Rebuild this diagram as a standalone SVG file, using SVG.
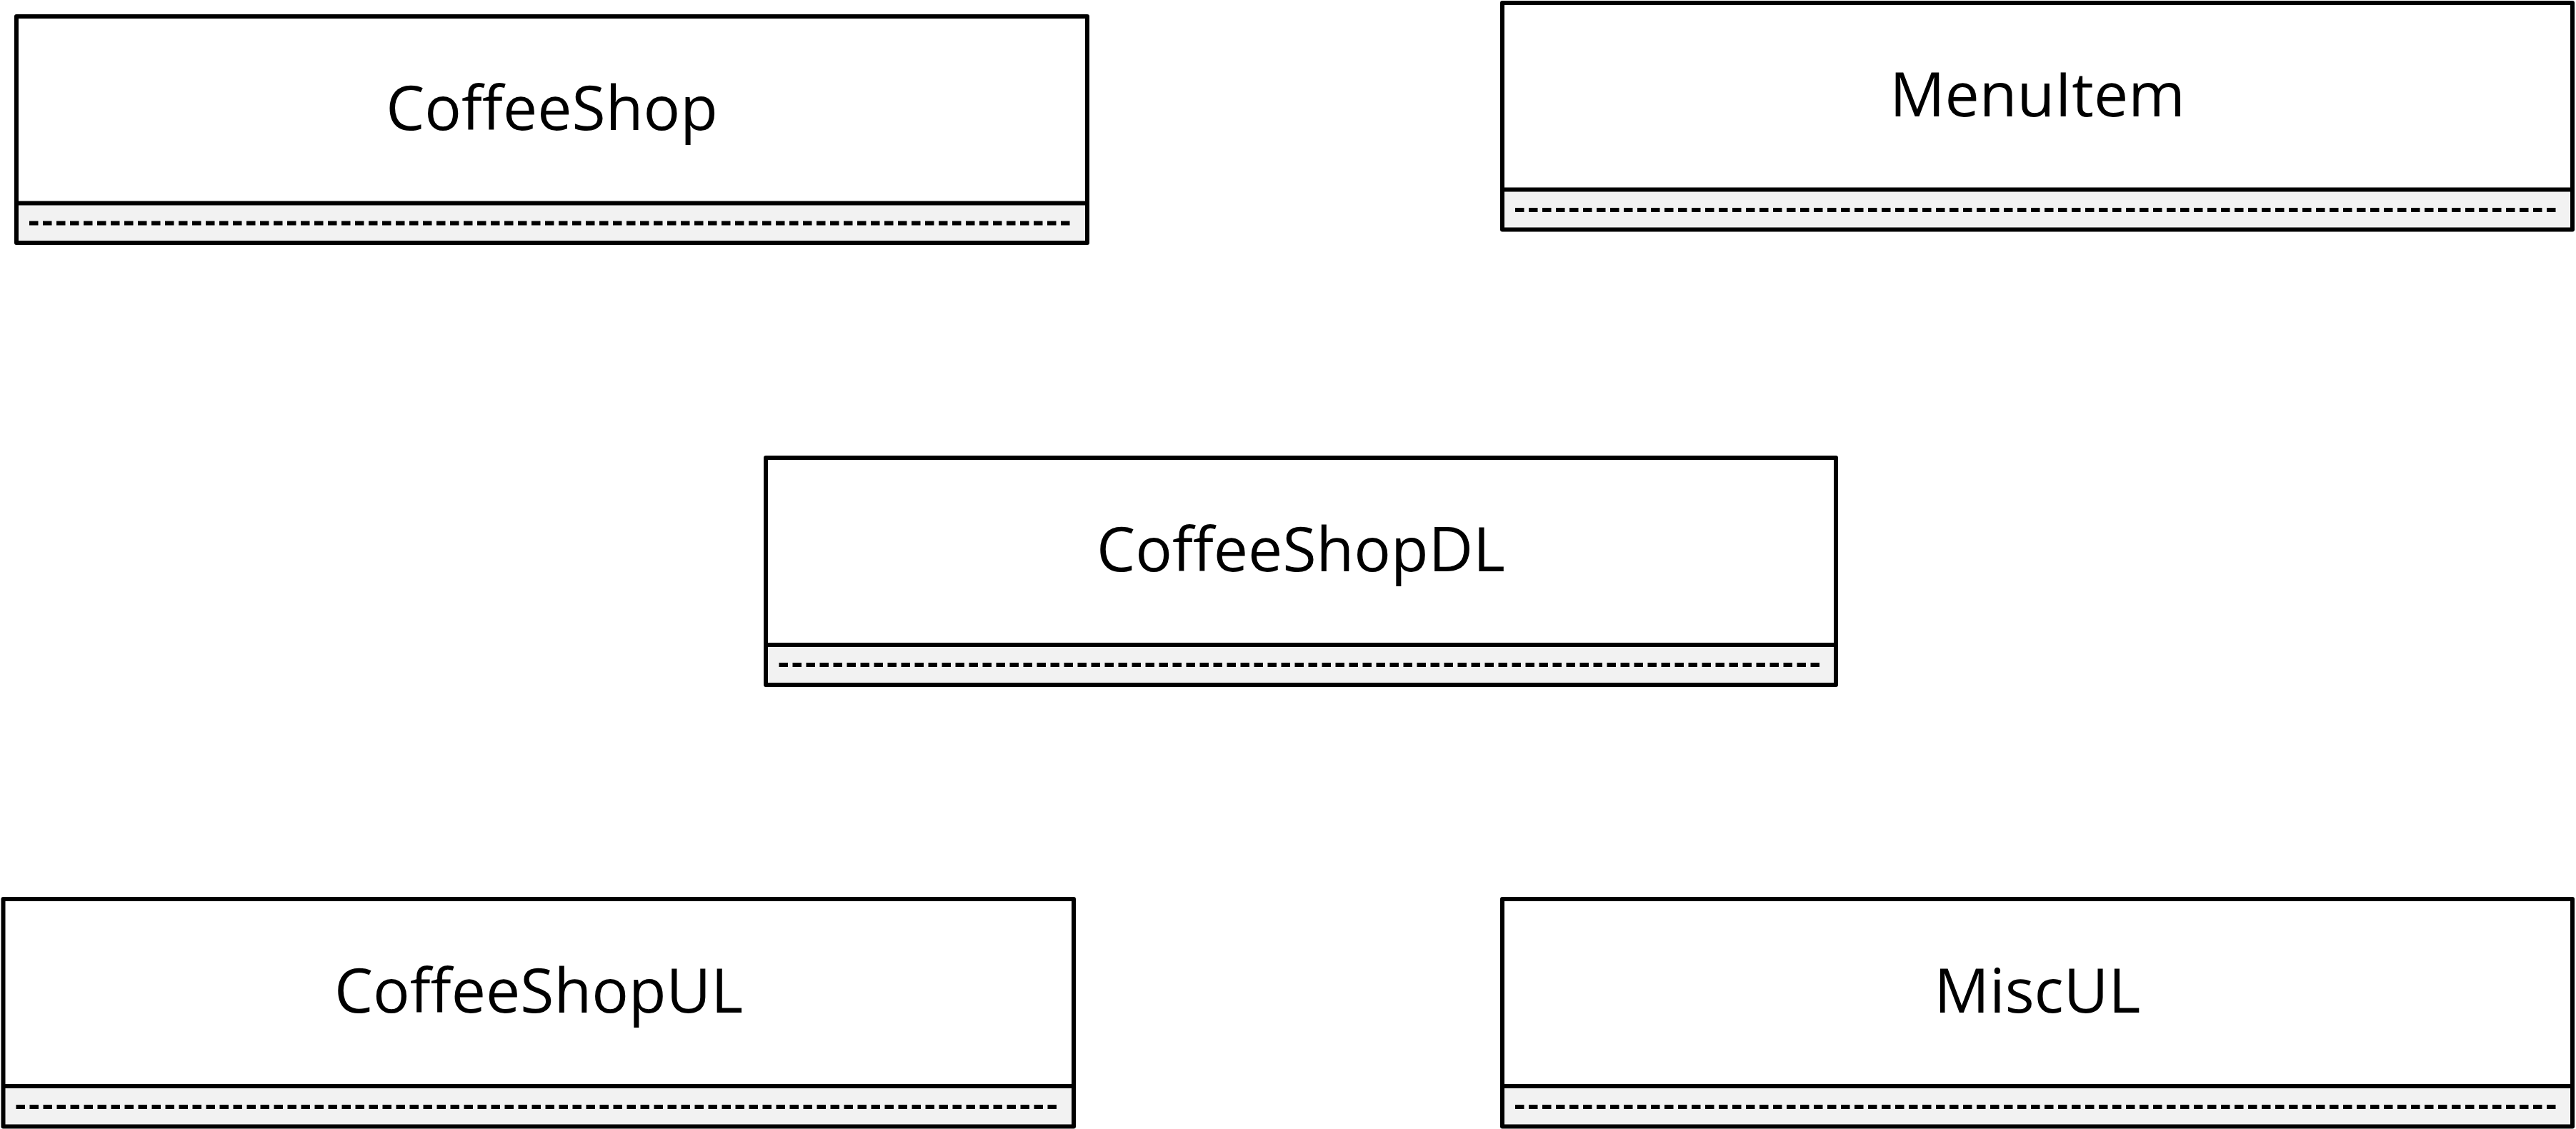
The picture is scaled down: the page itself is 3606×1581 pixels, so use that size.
<svg xmlns="http://www.w3.org/2000/svg" width="3606" height="1581" viewBox="0 0 3606 1581">
<style>
.hdr{fill:#ffffff;stroke:none}
.cmp{fill:#f2f2f2;stroke:none}
.box{fill:none;stroke:#000;stroke-width:6;stroke-linejoin:round}
.div{stroke:#000;stroke-width:6}
.dash{stroke:#000;stroke-width:6;stroke-dasharray:12.5 6.5}
.lbl{font-family:"Open Sans","Noto Sans","Liberation Sans",sans-serif;font-size:86px;fill:#000;text-anchor:middle}
</style>
<rect width="3606" height="1581" fill="#ffffff"/>
<g id="connectors"></g>
<g id="CoffeeShop">
<rect class="hdr" x="23" y="23" width="1499" height="261.5"/>
<rect class="cmp" x="23" y="284.5" width="1499" height="55.5"/>
<line class="div" x1="23" y1="284.5" x2="1522" y2="284.5"/>
<line class="dash" x1="41" y1="312.5" x2="1498" y2="312.5"/>
<rect class="box" x="23" y="23" width="1499" height="317"/>
<text class="lbl" x="772.5" y="182">CoffeeShop</text>
</g>
<g id="MenuItem">
<rect class="hdr" x="2103" y="4" width="1498" height="261.5"/>
<rect class="cmp" x="2103" y="265.5" width="1498" height="56"/>
<line class="div" x1="2103" y1="265.5" x2="3601" y2="265.5"/>
<line class="dash" x1="2121" y1="294" x2="3578" y2="294"/>
<rect class="box" x="2103" y="4" width="1498" height="317.5"/>
<text class="lbl" x="2852" y="163">MenuItem</text>
</g>
<g id="CoffeeShopDL">
<rect class="hdr" x="1072" y="641" width="1498" height="262"/>
<rect class="cmp" x="1072" y="903" width="1498" height="56"/>
<line class="div" x1="1072" y1="903" x2="2570" y2="903"/>
<line class="dash" x1="1090.5" y1="931" x2="2547" y2="931"/>
<rect class="box" x="1072" y="641" width="1498" height="318"/>
<text class="lbl" x="1821" y="800">CoffeeShopDL</text>
</g>
<g id="CoffeeShopUL">
<rect class="hdr" x="4.5" y="1259" width="1498.5" height="262"/>
<rect class="cmp" x="4.5" y="1521" width="1498.5" height="56.5"/>
<line class="div" x1="4.5" y1="1521" x2="1503" y2="1521"/>
<line class="dash" x1="22.5" y1="1550" x2="1479" y2="1550"/>
<rect class="box" x="4.5" y="1259" width="1498.5" height="318.5"/>
<text class="lbl" x="754" y="1418">CoffeeShopUL</text>
</g>
<g id="MiscUL">
<rect class="hdr" x="2103" y="1259" width="1498" height="262"/>
<rect class="cmp" x="2103" y="1521" width="1498" height="56.5"/>
<line class="div" x1="2103" y1="1521" x2="3601" y2="1521"/>
<line class="dash" x1="2121" y1="1550" x2="3578" y2="1550"/>
<rect class="box" x="2103" y="1259" width="1498" height="318.5"/>
<text class="lbl" x="2852" y="1418">MiscUL</text>
</g>
</svg>
